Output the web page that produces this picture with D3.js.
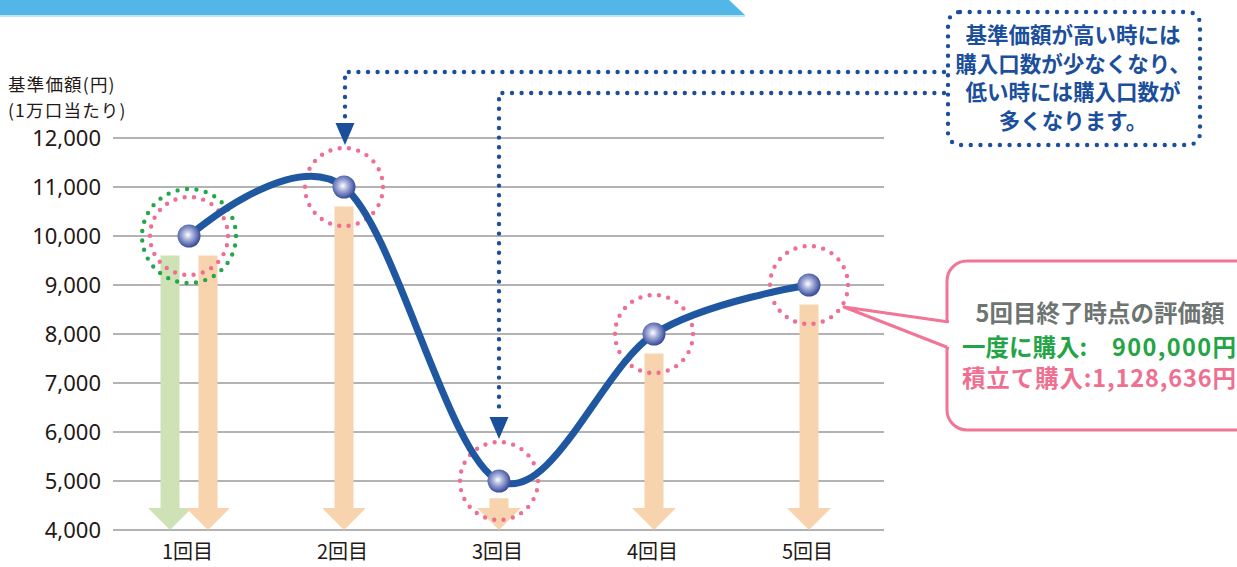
<!DOCTYPE html>
<html><head><meta charset="utf-8">
<script src="https://cdn.jsdelivr.net/npm/d3@7"></script>
<style>
html,body{margin:0;padding:0;background:#fff;}
svg{display:block;font-family:"Noto Sans CJK JP","Noto Sans",sans-serif;}
</style></head>
<body>
<svg id="c" width="1237" height="567"></svg>
<script>
// ---- data ----
const categories = ["1回目", "2回目", "3回目", "4回目", "5回目"];
const navValues = [10000, 11000, 5000, 8000, 9000];       // 基準価額
const accumTops = [9600, 10600, 4650, 7600, 8600];        // 積立て購入 (orange arrows)
const lumpTops = [9600];                                   // 一度に購入 (green arrow, 1回目 only)
const yTicks = [4000, 5000, 6000, 7000, 8000, 9000, 10000, 11000, 12000];
const yLabelLines = ["基準価額(円)", "(1万口当たり)"];
const noteLines = ["基準価額が高い時には", "購入口数が少なくなり、", "低い時には購入口数が", "多くなります。"];
const calloutTitle = "5回目終了時点の評価額";
const lumpLabel = ["一度に購入:", "900,000円"];
const accumLabel = ["積立て購入:", "1,128,636円"];

const svg = d3.select("#c");
const x = d3.scalePoint().domain(categories).range([189, 809]);
const y = d3.scaleLinear().domain([4000, 12000]).range([530, 138]);

// top banner
svg.append("path").attr("d", "M0,0 L729,0 L745,15 L0,15 Z").attr("fill", "#52b6e7");
svg.append("rect").attr("x", 0).attr("y", 15).attr("width", 745).attr("height", 2).attr("fill", "#bfe5f7");

// gridlines
svg.append("g").selectAll("line").data(yTicks).join("line")
  .attr("x1", 113).attr("x2", 884)
  .attr("y1", d => y(d)).attr("y2", d => y(d))
  .attr("stroke", "#9a9a9a").attr("stroke-width", 1.5);

// y axis tick labels
const yAxis = d3.axisLeft(y).tickValues(yTicks).tickFormat(d3.format(",")).tickSize(0).tickPadding(0);
const ya = svg.append("g").attr("transform", "translate(101,0)").call(yAxis);
ya.select(".domain").remove();
ya.selectAll("text").attr("font-size", 22).attr("fill", "#231815")
  .attr("font-family", "'Noto Sans','Noto Sans CJK JP',sans-serif");

// y label (one multi-line text block)
const yl = svg.append("text").attr("font-size", 17.5).attr("letter-spacing", 1.2).attr("fill", "#231815");
yl.selectAll("tspan").data(yLabelLines).join("tspan")
  .attr("x", 8).attr("y", (d, i) => 91 + i * 25.5).text(d => d);

// x axis labels
const xAxis = d3.axisBottom(x).tickSize(0).tickPadding(0);
const xa = svg.append("g").attr("transform", "translate(-2,0)").call(xAxis);
xa.select(".domain").remove();
xa.selectAll("text").attr("y", 559).attr("dy", 0).attr("font-size", 20).attr("fill", "#231815")
  .attr("font-family", "'Noto Sans CJK JP',sans-serif");

// arrows
function arrowPath(cx, top, bottom) {
  const sw = 9.5, hw = 22, hh = 22;
  return `M${cx - sw},${top} L${cx + sw},${top} L${cx + sw},${bottom - hh} L${cx + hw},${bottom - hh} L${cx},${bottom} L${cx - hw},${bottom - hh} L${cx - sw},${bottom - hh} Z`;
}
const base = y(4000);
svg.append("g").selectAll("path").data(lumpTops).join("path")
  .attr("d", (d, i) => arrowPath(x(categories[i]) - 19, y(d), base))
  .attr("fill", "#cfe2b5");
svg.append("g").selectAll("path").data(accumTops).join("path")
  .attr("d", (d, i) => arrowPath(x(categories[i]) + (i === 0 ? 19 : 0), y(d), base))
  .attr("fill", "#f8d4ae");

// dotted rings
function dottedCircle(g, cx, cy, r, n, color) {
  const c = 2 * Math.PI * r;
  g.append("circle").attr("cx", cx).attr("cy", cy).attr("r", r)
    .attr("fill", "none").attr("stroke", color).attr("stroke-width", 4.4)
    .attr("stroke-linecap", "round").attr("stroke-dasharray", `0 ${c / n}`);
}
const rings = svg.append("g");
navValues.forEach((v, i) => dottedCircle(rings, x(categories[i]), y(v), 39, 26, "#ef6f92"));
dottedCircle(rings, x(categories[0]), y(navValues[0]), 47, 31, "#20a84a");

// line
const line = d3.line().x((d, i) => x(categories[i])).y(d => y(d)).curve(d3.curveCatmullRom.alpha(0));
svg.append("path").datum(navValues).attr("d", line)
  .attr("fill", "none").attr("stroke", "#1f58a1").attr("stroke-width", 7).attr("stroke-linecap", "round");

// sphere markers
const defs = svg.append("defs");
const grad = defs.append("radialGradient").attr("id", "sph").attr("cx", "45%").attr("cy", "45%").attr("r", "60%");
grad.append("stop").attr("offset", "0%").attr("stop-color", "#ffffff");
grad.append("stop").attr("offset", "35%").attr("stop-color", "#a9b3dc");
grad.append("stop").attr("offset", "80%").attr("stop-color", "#4d5ea8");
grad.append("stop").attr("offset", "100%").attr("stop-color", "#2e3d86");
svg.append("g").selectAll("circle").data(navValues).join("circle")
  .attr("cx", (d, i) => x(categories[i])).attr("cy", d => y(d)).attr("r", 11.5)
  .attr("fill", "url(#sph)");

// dotted blue guide arrows
const blue = "#1b4f9c";
function guide(xc, hy, v) {
  const tip = y(v) - 42;
  svg.append("path").attr("d", `M944,${hy} L${xc},${hy} L${xc},${tip - 26}`)
    .attr("fill", "none").attr("stroke", blue).attr("stroke-width", 4.4)
    .attr("stroke-linecap", "round").attr("stroke-dasharray", "0 9.6");
  svg.append("path").attr("d", `M${xc - 9.5},${tip - 22} L${xc + 9.5},${tip - 22} L${xc},${tip} Z`).attr("fill", blue);
}
guide(x(categories[1]) + 1, 72, navValues[1]);
guide(x(categories[2]), 93, navValues[2]);

// note box (dotted rounded rect)
svg.append("rect").attr("x", 948).attr("y", 12).attr("width", 252).attr("height", 133).attr("rx", 12)
  .attr("fill", "#fff").attr("stroke", blue).attr("stroke-width", 4.4)
  .attr("stroke-linecap", "round").attr("stroke-dasharray", "0 9.7");
const nt = svg.append("text").attr("text-anchor", "middle")
  .attr("font-size", 21.5).attr("font-weight", "bold").attr("fill", blue);
nt.selectAll("tspan").data(noteLines).join("tspan")
  .attr("x", 1073).attr("y", (d, i) => 43 + i * 28.5).text(d => d);

// callout box
const pink = "#f17595";
svg.append("rect").attr("x", 947).attr("y", 261).attr("width", 330).attr("height", 169).attr("rx", 20)
  .attr("fill", "#fff").attr("stroke", pink).attr("stroke-width", 3);
svg.append("path").attr("d", "M949,322 L844,307 L949,348")
  .attr("fill", "#fff").attr("stroke", pink).attr("stroke-width", 3).attr("stroke-linejoin", "round");
svg.append("rect").attr("x", 947.5).attr("y", 323).attr("width", 4).attr("height", 24).attr("fill", "#fff");

svg.append("text").attr("x", 1100).attr("y", 322).attr("text-anchor", "middle")
  .attr("font-size", 23.5).attr("font-weight", "bold").attr("fill", "#6d7472").text(calloutTitle);
svg.append("text").attr("x", 962).attr("y", 356).attr("font-size", 23.5).attr("font-weight", "bold")
  .attr("fill", "#23a545").text(lumpLabel[0]);
svg.append("text").attr("x", 1236).attr("y", 356).attr("text-anchor", "end").attr("font-size", 23.5)
  .attr("font-weight", "bold").attr("fill", "#23a545").attr("textLength", 124).attr("lengthAdjust", "spacing")
  .text(lumpLabel[1]);
svg.append("text").attr("x", 962).attr("y", 387).attr("font-size", 23.5).attr("font-weight", "bold")
  .attr("fill", "#ef6f90").attr("textLength", 274).attr("lengthAdjust", "spacing")
  .text(accumLabel.join(""));
</script>
</body></html>
